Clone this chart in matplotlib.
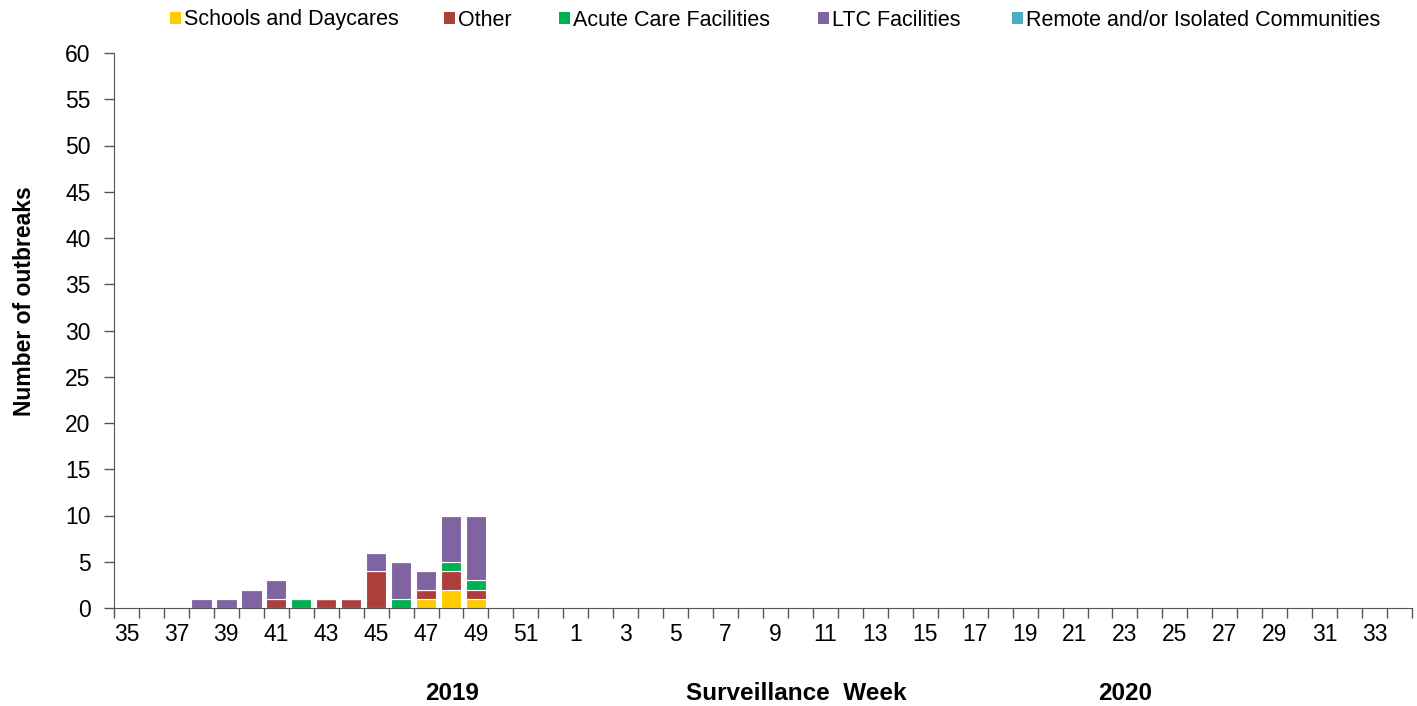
import numpy as np
import matplotlib.pyplot as plt
import matplotlib
from matplotlib.patches import Patch

matplotlib.rcParams['font.family'] = ['Liberation Sans', 'DejaVu Sans']

weeks = list(range(35, 53)) + list(range(1, 35))
# counts per week, keyed by week number (others are zero)
schools = {47: 1, 48: 2, 49: 1}
other = {41: 1, 43: 1, 44: 1, 45: 4, 47: 1, 48: 2, 49: 1}
acute = {42: 1, 46: 1, 48: 1, 49: 1}
ltc = {38: 1, 39: 1, 40: 2, 41: 2, 45: 2, 46: 4, 47: 2, 48: 5, 49: 7}
remote = {}

series = [
    ('Schools and Daycares', schools, '#FFCC00'),
    ('Other', other, '#AD3F3B'),
    ('Acute Care Facilities', acute, '#00B050'),
    ('LTC Facilities', ltc, '#8064A2'),
    ('Remote and/or Isolated Communities', remote, '#4BACC6'),
]
legend_x = [170, 444, 559, 818, 1012]  # left edge of each legend entry (px)

x = np.arange(len(weeks))
fig = plt.figure(figsize=(14.17, 7.06), dpi=100)
ax = fig.add_axes([114 / 1417, 1 - 608 / 706, (1412 - 114) / 1417, (608 - 53) / 706])

bottom = np.zeros(len(weeks))
for name, d, color in series:
    vals = np.array([d.get(w, 0) for w in weeks], dtype=float)
    ax.bar(x, vals, width=0.82, bottom=bottom, color=color, edgecolor='white',
           linewidth=0.8, label=name)
    bottom += vals

ax.set_xlim(-0.5, len(weeks) - 0.5)
ax.set_ylim(0, 60)
ax.set_yticks(range(0, 61, 5))
ax.set_xticks(x[::2])
ax.set_xticklabels([str(w) for w in weeks[::2]])
ax.set_xticks(np.arange(-0.5, len(weeks), 1), minor=True)
ax.tick_params(axis='x', which='major', length=0, labelsize=16.5, pad=11)
ax.tick_params(axis='x', which='minor', length=7, width=1, color='#555555', direction='out')
ax.tick_params(axis='y', length=7, width=1, color='#555555', labelsize=16.5, pad=10)
for s in ['top', 'right']:
    ax.spines[s].set_visible(False)
for s in ['left', 'bottom']:
    ax.spines[s].set_color('#555555')

fig.text(25 / 1417, 1 - 301 / 706, 'Number of outbreaks', rotation=90, ha='center', va='center',
         fontsize=16.5, fontweight='bold')

fig.text(452 / 1417, 1 - 693 / 706, '2019', ha='center', va='center', fontsize=17.5, fontweight='bold')
fig.text(796 / 1417, 1 - 693 / 706, 'Surveillance  Week', ha='center', va='center', fontsize=17.5, fontweight='bold')
fig.text(1125 / 1417, 1 - 693 / 706, '2020', ha='center', va='center', fontsize=17.5, fontweight='bold')

for (name, d, color), lx in zip(series, legend_x):
    fig.legend(handles=[Patch(facecolor=color)], labels=[name], loc='center left',
               bbox_to_anchor=(lx / 1417, 1 - 20 / 706), frameon=False, borderaxespad=0,
               borderpad=0, fontsize=15.5, handlelength=0.5, handleheight=0.5, handletextpad=0.15)

fig.savefig('out.png', dpi=100)
